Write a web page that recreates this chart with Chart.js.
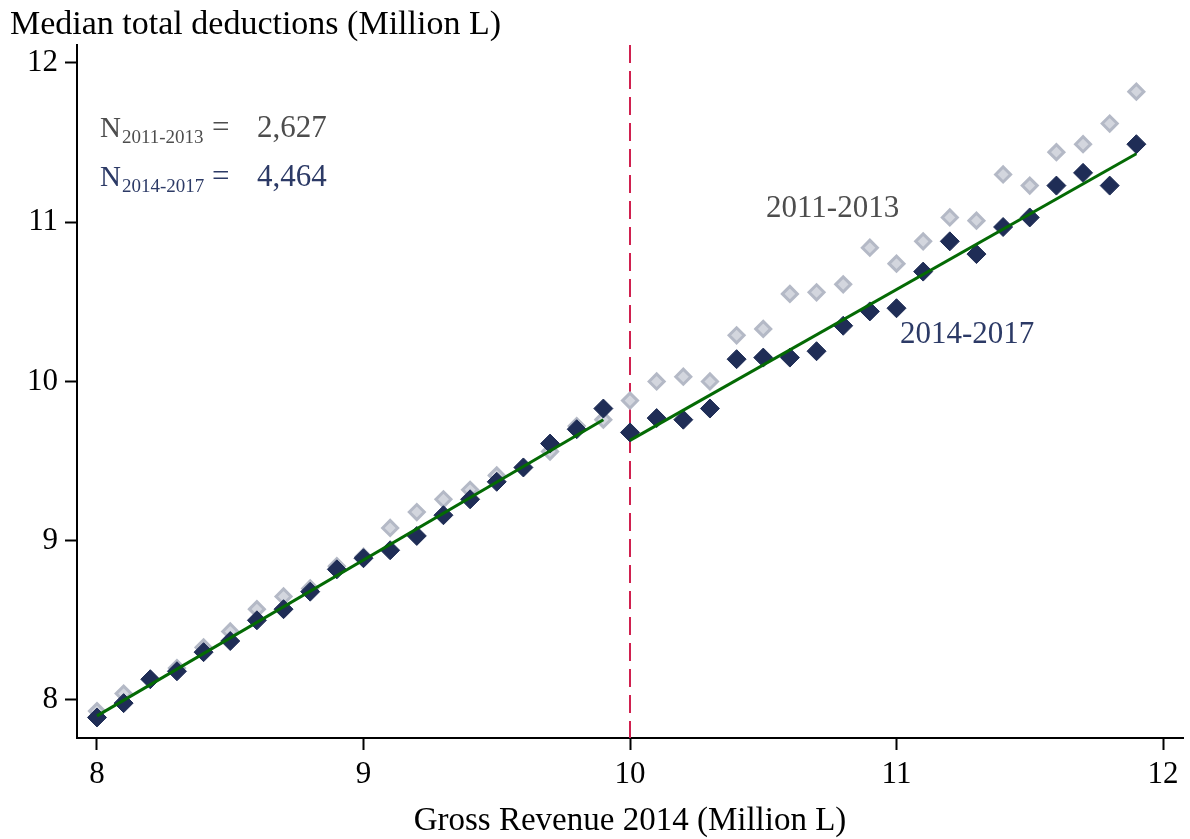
<!DOCTYPE html>
<html lang="en">
<head>
  <meta charset="UTF-8">
  <title>Median total deductions</title>
  <script src="https://cdn.jsdelivr.net/npm/chart.js"></script>
  <style>
    body { margin: 0; background: #fff; }
    .chart-box { width: 1190px; height: 839px; }
  </style>
</head>
<body>
  <div class="chart-box"><canvas id="rdChart"></canvas></div>
  <script>
    // Revenue bins (Million L)
    const bins = [8.0, 8.1, 8.2, 8.3, 8.4, 8.5, 8.6, 8.7, 8.8, 8.9,
                  9.0, 9.1, 9.2, 9.3, 9.4, 9.5, 9.6, 9.7, 9.8, 9.9,
                  10.0, 10.1, 10.2, 10.3, 10.4, 10.5, 10.6, 10.7, 10.8, 10.9,
                  11.0, 11.1, 11.2, 11.3, 11.4, 11.5, 11.6, 11.7, 11.8, 11.9];

    const pre = [7.93, 8.04, 8.13, 8.20, 8.33, 8.43, 8.57, 8.65, 8.70, 8.84,
                 8.90, 9.08, 9.18, 9.26, 9.32, 9.41, 9.46, 9.56, 9.72, 9.76,
                 9.88, 10.00, 10.03, 10.00, 10.29, 10.33, 10.55, 10.56, 10.61, 10.84,
                 10.74, 10.88, 11.03, 11.01, 11.30, 11.23, 11.44, 11.49, 11.62, 11.82];

    const post = [7.89, 7.98, 8.13, 8.18, 8.30, 8.37, 8.50, 8.57, 8.68, 8.82,
                  8.89, 8.94, 9.03, 9.16, 9.26, 9.37, 9.46, 9.61, 9.70, 9.83,
                  9.68, 9.77, 9.76, 9.83, 10.14, 10.15, 10.15, 10.19, 10.35, 10.44,
                  10.46, 10.69, 10.88, 10.80, 10.97, 11.03, 11.23, 11.31, 11.23, 11.49];

    // Linear fits for 2014-2017, each side of the threshold
    const fitLeftX = [8.0, 9.9];
    const fitLeftY = [7.90, 9.76];
    const fitRightX = [10.0, 11.9];
    const fitRightY = [9.63, 11.43];

    const xTicks = [8, 9, 10, 11, 12];
    const yTicks = [8, 9, 10, 11, 12];
    const cutoff = 10;

    const serif = '"Liberation Serif", "DejaVu Serif", serif';
    const toPts = (xs, ys) => xs.map((x, i) => ({ x: x, y: ys[i] }));
    const noPad = () => ({ left: 0, right: 0, top: 0, bottom: 0 });

    const textPlugin = {
      id: 'annotations',
      beforeDatasetsDraw(chart) {
        // dashed threshold line
        const { ctx, chartArea, scales } = chart;
        const px = scales.x.getPixelForValue(cutoff);
        ctx.save();
        ctx.strokeStyle = '#d0204f';
        ctx.lineWidth = 2;
        ctx.setLineDash([18, 8]);
        ctx.beginPath();
        ctx.moveTo(px, chartArea.top);
        ctx.lineTo(px, chartArea.bottom);
        ctx.stroke();
        ctx.restore();
      },
      afterDraw(chart) {
        const ctx = chart.ctx;
        ctx.save();
        ctx.textBaseline = 'alphabetic';
        ctx.textAlign = 'left';

        // axis titles
        ctx.fillStyle = '#000';
        ctx.font = '34px ' + serif;
        ctx.fillText('Median total deductions (Million L)', 10, 34);
        ctx.textAlign = 'center';
        ctx.font = '33px ' + serif;
        ctx.fillText('Gross Revenue 2014 (Million L)', 630, 830);
        ctx.textAlign = 'left';

        // sample sizes
        function nLine(sub, val, color, y) {
          ctx.fillStyle = color;
          ctx.font = '29px ' + serif;
          ctx.fillText('N', 100, y);
          ctx.font = '19px ' + serif;
          ctx.fillText(sub, 122, y + 6);
          ctx.font = '31px ' + serif;
          ctx.fillText('=', 212, y);
          ctx.fillText(val, 257, y);
        }
        nLine('2011-2013', '2,627', '#4d4d4d', 137);
        nLine('2014-2017', '4,464', '#2c3a66', 186);

        // series labels
        ctx.font = '31px ' + serif;
        ctx.fillStyle = '#4d4d4d';
        ctx.fillText('2011-2013', 766, 217);
        ctx.fillStyle = '#2c3a66';
        ctx.fillText('2014-2017', 900, 343);
        ctx.restore();
      }
    };

    new Chart(document.getElementById('rdChart'), {
      type: 'scatter',
      data: {
        datasets: [
          {
            label: '2011-2013',
            data: toPts(bins, pre),
            order: 3,
            pointStyle: 'rectRot',
            pointRadius: 7.5,
            backgroundColor: '#d3d6de',
            borderColor: '#b4b9c6',
            borderWidth: 3
          },
          {
            label: '2014-2017',
            data: toPts(bins, post),
            order: 2,
            pointStyle: 'rectRot',
            pointRadius: 9.5,
            backgroundColor: '#1f2d56',
            borderColor: '#1f2d56',
            borderWidth: 1
          },
          {
            label: 'fit left',
            data: toPts(fitLeftX, fitLeftY),
            order: 1,
            showLine: true,
            pointRadius: 0,
            borderColor: '#046a04',
            borderWidth: 3
          },
          {
            label: 'fit right',
            data: toPts(fitRightX, fitRightY),
            order: 1,
            showLine: true,
            pointRadius: 0,
            borderColor: '#046a04',
            borderWidth: 3
          }
        ]
      },
      options: {
        responsive: true,
        maintainAspectRatio: false,
        animation: false,
        layout: { autoPadding: false, padding: { top: 45, right: 7, left: 0, bottom: 0 } },
        plugins: { legend: { display: false }, tooltip: { enabled: false } },
        scales: {
          x: {
            type: 'linear',
            min: 7.925,
            max: 12.075,
            afterBuildTicks: axis => { axis.ticks = xTicks.map(v => ({ value: v })); },
            afterFit: axis => { axis.height = 101; axis.getPadding = noPad; },
            grid: { display: true, drawOnChartArea: false, tickLength: 12, tickColor: '#000', tickWidth: 2 },
            border: { color: '#000', width: 2 },
            ticks: { color: '#000', font: { family: serif, size: 31 }, padding: 6, maxRotation: 0 }
          },
          y: {
            type: 'linear',
            min: 7.761,
            max: 12.113,
            afterBuildTicks: axis => { axis.ticks = yTicks.map(v => ({ value: v })); },
            afterFit: axis => { axis.width = 77; axis.getPadding = noPad; },
            grid: { display: true, drawOnChartArea: false, tickLength: 12, tickColor: '#000', tickWidth: 2 },
            border: { color: '#000', width: 2 },
            ticks: { color: '#000', font: { family: serif, size: 31 }, padding: 7 }
          }
        }
      },
      plugins: [textPlugin]
    });
  </script>
</body>
</html>
